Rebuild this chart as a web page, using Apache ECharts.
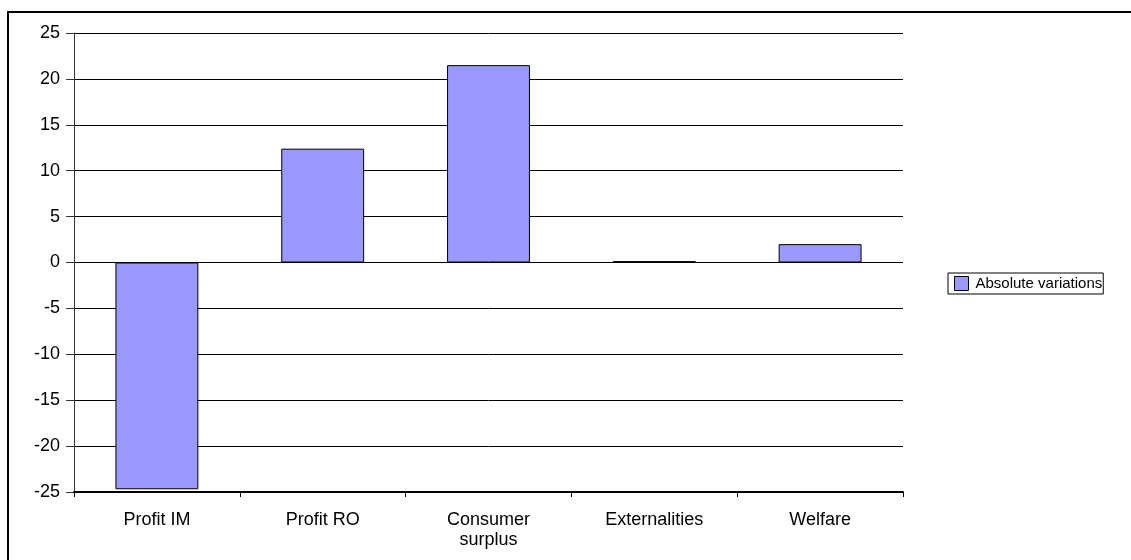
<!DOCTYPE html>
<html>
<head>
<meta charset="utf-8">
<script src="https://cdn.jsdelivr.net/npm/echarts@6/dist/echarts.min.js"></script>
<style>html,body{margin:0;padding:0;background:#fff;}#c{width:1131px;height:560px;}</style>
</head>
<body>
<div id="c"></div>
<script>
const categories = ['Profit IM', 'Profit RO', 'Consumer\nsurplus', 'Externalities', 'Welfare'];
const seriesName = 'Absolute variations';
const values = [-24.7, 12.4, 21.5, 0.15, 2.0];
const yTicks = { min: -25, max: 25, interval: 5 };

const chart = echarts.init(document.getElementById('c'), null, { renderer: 'canvas' });
const font = '"Liberation Sans", Arial, sans-serif';
chart.setOption({
  animation: false,
  backgroundColor: '#fff',
  textStyle: { fontFamily: font },
  graphic: [
    { type: 'line', shape: { x1: 8, y1: 11, x2: 8, y2: 560 }, style: { stroke: '#000', lineWidth: 2 } },
    { type: 'line', shape: { x1: 7, y1: 12, x2: 1131, y2: 12 }, style: { stroke: '#000', lineWidth: 2 } }
  ],
  grid: { left: 74, right: 228, top: 33, bottom: 68, containLabel: false },
  legend: {
    data: [seriesName],
    left: 948, top: 273,
    orient: 'vertical',
    borderColor: '#000', borderWidth: 1, borderRadius: 0,
    padding: [3, 1, 3, 6],
    itemWidth: 14, itemHeight: 14, itemGap: 4,
    icon: 'rect',
    itemStyle: { color: '#9999FF', borderColor: '#000', borderWidth: 1 },
    textStyle: { fontFamily: font, fontSize: 15, color: '#000', padding: [0, 0, 0, 2] }
  },
  xAxis: {
    type: 'category',
    data: categories,
    boundaryGap: true,
    axisLine: { onZero: false, lineStyle: { color: '#000', width: 2 } },
    axisTick: { show: true, length: 5, alignWithLabel: false, lineStyle: { color: '#000' } },
    axisLabel: { color: '#000', fontSize: 18, fontFamily: font, margin: 18, lineHeight: 20, interval: 0 },
    splitLine: { show: false }
  },
  yAxis: {
    type: 'value',
    min: yTicks.min, max: yTicks.max, interval: yTicks.interval,
    axisLine: { show: true, lineStyle: { color: '#333', width: 1 } },
    axisTick: { show: true, length: 8, lineStyle: { color: '#333' } },
    axisLabel: { color: '#000', fontSize: 18, fontFamily: font, margin: 14 },
    splitLine: { show: true, lineStyle: { color: '#000', width: 1 } }
  },
  series: [{
    name: seriesName,
    type: 'bar',
    data: values,
    barWidth: '50%',
    itemStyle: { color: '#9999FF', borderColor: '#000', borderWidth: 1 }
  }]
});
</script>
</body>
</html>
